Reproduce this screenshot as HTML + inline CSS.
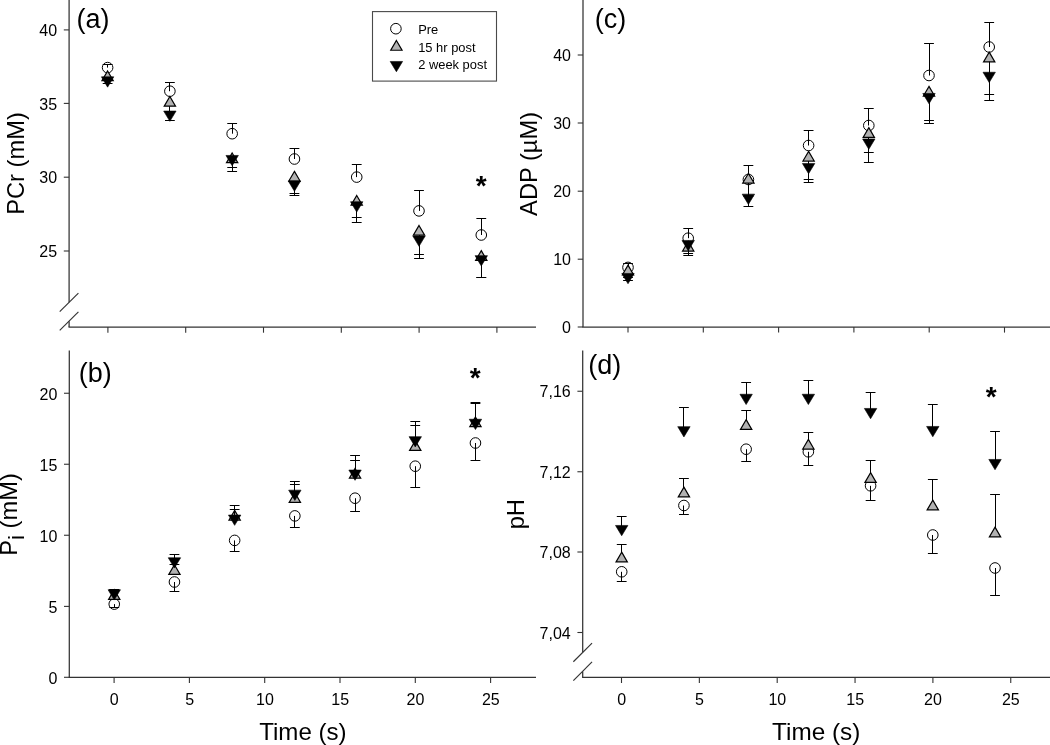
<!DOCTYPE html>
<html><head><meta charset="utf-8"><title>Figure</title>
<style>
html,body{margin:0;padding:0;background:#fff;}
body{width:1050px;height:745px;overflow:hidden;}
svg{display:block;will-change:transform;}
svg text{font-family:"Liberation Sans",sans-serif;fill:#000;}
</style></head><body>
<svg width="1050" height="745" viewBox="0 0 1050 745">
<rect x="0" y="0" width="1050" height="745" fill="#ffffff"/>
<line x1="69.10" y1="0.00" x2="69.10" y2="302.30" stroke="#333333" stroke-width="1.25"/>
<line x1="69.10" y1="321.20" x2="69.10" y2="327.10" stroke="#333333" stroke-width="1.25"/>
<line x1="68.50" y1="327.10" x2="536.00" y2="327.10" stroke="#333333" stroke-width="1.25"/>
<line x1="63.80" y1="29.90" x2="69.10" y2="29.90" stroke="#333333" stroke-width="1.1"/>
<text x="57.10" y="36.00" font-size="16" text-anchor="end">40</text>
<line x1="63.80" y1="103.40" x2="69.10" y2="103.40" stroke="#333333" stroke-width="1.1"/>
<text x="57.10" y="109.50" font-size="16" text-anchor="end">35</text>
<line x1="63.80" y1="177.20" x2="69.10" y2="177.20" stroke="#333333" stroke-width="1.1"/>
<text x="57.10" y="183.30" font-size="16" text-anchor="end">30</text>
<line x1="63.80" y1="251.00" x2="69.10" y2="251.00" stroke="#333333" stroke-width="1.1"/>
<text x="57.10" y="257.10" font-size="16" text-anchor="end">25</text>
<line x1="107.90" y1="327.10" x2="107.90" y2="332.70" stroke="#333333" stroke-width="1.1"/>
<line x1="185.70" y1="327.10" x2="185.70" y2="332.70" stroke="#333333" stroke-width="1.1"/>
<line x1="263.50" y1="327.10" x2="263.50" y2="332.70" stroke="#333333" stroke-width="1.1"/>
<line x1="341.30" y1="327.10" x2="341.30" y2="332.70" stroke="#333333" stroke-width="1.1"/>
<line x1="419.10" y1="327.10" x2="419.10" y2="332.70" stroke="#333333" stroke-width="1.1"/>
<line x1="496.90" y1="327.10" x2="496.90" y2="332.70" stroke="#333333" stroke-width="1.1"/>
<line x1="59.70" y1="330.45" x2="78.40" y2="311.85" stroke="#333333" stroke-width="1.15"/>
<line x1="59.70" y1="311.65" x2="78.40" y2="293.05" stroke="#333333" stroke-width="1.15"/>
<circle cx="107.60" cy="67.60" r="5.3" fill="none" stroke="#000" stroke-width="1"/>
<line x1="107.50" y1="67.60" x2="107.50" y2="64.50" stroke="#000" stroke-width="1.05"/>
<line x1="102.70" y1="64.50" x2="112.50" y2="64.50" stroke="#000" stroke-width="1.05"/>
<circle cx="169.88" cy="91.20" r="5.3" fill="none" stroke="#000" stroke-width="1"/>
<line x1="169.50" y1="91.20" x2="169.50" y2="82.50" stroke="#000" stroke-width="1.05"/>
<line x1="164.98" y1="82.50" x2="174.78" y2="82.50" stroke="#000" stroke-width="1.05"/>
<circle cx="232.16" cy="133.70" r="5.3" fill="none" stroke="#000" stroke-width="1"/>
<line x1="232.50" y1="133.70" x2="232.50" y2="123.50" stroke="#000" stroke-width="1.05"/>
<line x1="227.26" y1="123.50" x2="237.06" y2="123.50" stroke="#000" stroke-width="1.05"/>
<circle cx="294.44" cy="159.00" r="5.3" fill="none" stroke="#000" stroke-width="1"/>
<line x1="294.50" y1="159.00" x2="294.50" y2="148.50" stroke="#000" stroke-width="1.05"/>
<line x1="289.54" y1="148.50" x2="299.34" y2="148.50" stroke="#000" stroke-width="1.05"/>
<circle cx="356.72" cy="177.10" r="5.3" fill="none" stroke="#000" stroke-width="1"/>
<line x1="356.50" y1="177.10" x2="356.50" y2="164.50" stroke="#000" stroke-width="1.05"/>
<line x1="351.82" y1="164.50" x2="361.62" y2="164.50" stroke="#000" stroke-width="1.05"/>
<circle cx="419.00" cy="210.90" r="5.3" fill="none" stroke="#000" stroke-width="1"/>
<line x1="419.50" y1="210.90" x2="419.50" y2="190.50" stroke="#000" stroke-width="1.05"/>
<line x1="414.10" y1="190.50" x2="423.90" y2="190.50" stroke="#000" stroke-width="1.05"/>
<circle cx="481.28" cy="235.00" r="5.3" fill="none" stroke="#000" stroke-width="1"/>
<line x1="481.50" y1="235.00" x2="481.50" y2="218.50" stroke="#000" stroke-width="1.05"/>
<line x1="476.38" y1="218.50" x2="486.18" y2="218.50" stroke="#000" stroke-width="1.05"/>
<line x1="107.50" y1="75.80" x2="107.50" y2="80.50" stroke="#000" stroke-width="1.05"/>
<line x1="102.70" y1="80.50" x2="112.50" y2="80.50" stroke="#000" stroke-width="1.05"/>
<polygon points="107.60,70.95 113.25,80.65 101.95,80.65" fill="#b2b2b2" stroke="#000" stroke-width="1.2" stroke-linejoin="miter"/>
<line x1="169.50" y1="101.30" x2="169.50" y2="111.50" stroke="#000" stroke-width="1.05"/>
<line x1="164.98" y1="111.50" x2="174.78" y2="111.50" stroke="#000" stroke-width="1.05"/>
<polygon points="169.88,96.45 175.53,106.15 164.23,106.15" fill="#b2b2b2" stroke="#000" stroke-width="1.2" stroke-linejoin="miter"/>
<line x1="232.50" y1="157.80" x2="232.50" y2="167.50" stroke="#000" stroke-width="1.05"/>
<line x1="227.26" y1="167.50" x2="237.06" y2="167.50" stroke="#000" stroke-width="1.05"/>
<polygon points="232.16,152.95 237.81,162.65 226.51,162.65" fill="#b2b2b2" stroke="#000" stroke-width="1.2" stroke-linejoin="miter"/>
<line x1="294.50" y1="176.20" x2="294.50" y2="193.50" stroke="#000" stroke-width="1.05"/>
<line x1="289.54" y1="193.50" x2="299.34" y2="193.50" stroke="#000" stroke-width="1.05"/>
<polygon points="294.44,171.35 300.09,181.05 288.79,181.05" fill="#b2b2b2" stroke="#000" stroke-width="1.2" stroke-linejoin="miter"/>
<line x1="356.50" y1="200.40" x2="356.50" y2="217.50" stroke="#000" stroke-width="1.05"/>
<line x1="351.82" y1="217.50" x2="361.62" y2="217.50" stroke="#000" stroke-width="1.05"/>
<polygon points="356.72,195.55 362.37,205.25 351.07,205.25" fill="#b2b2b2" stroke="#000" stroke-width="1.2" stroke-linejoin="miter"/>
<line x1="419.50" y1="230.30" x2="419.50" y2="254.50" stroke="#000" stroke-width="1.05"/>
<line x1="414.10" y1="254.50" x2="423.90" y2="254.50" stroke="#000" stroke-width="1.05"/>
<polygon points="419.00,225.45 424.65,235.15 413.35,235.15" fill="#b2b2b2" stroke="#000" stroke-width="1.2" stroke-linejoin="miter"/>
<line x1="481.50" y1="255.50" x2="481.50" y2="277.50" stroke="#000" stroke-width="1.05"/>
<line x1="476.38" y1="277.50" x2="486.18" y2="277.50" stroke="#000" stroke-width="1.05"/>
<polygon points="481.28,250.65 486.93,260.35 475.63,260.35" fill="#b2b2b2" stroke="#000" stroke-width="1.2" stroke-linejoin="miter"/>
<line x1="107.50" y1="81.40" x2="107.50" y2="83.50" stroke="#000" stroke-width="1.05"/>
<line x1="102.70" y1="83.50" x2="112.50" y2="83.50" stroke="#000" stroke-width="1.05"/>
<polygon points="101.40,76.85 113.80,76.85 107.60,87.15" fill="#000" stroke="#000" stroke-width="0.6" stroke-linejoin="miter"/>
<line x1="169.50" y1="115.60" x2="169.50" y2="120.50" stroke="#000" stroke-width="1.05"/>
<line x1="164.98" y1="120.50" x2="174.78" y2="120.50" stroke="#000" stroke-width="1.05"/>
<polygon points="163.68,111.05 176.08,111.05 169.88,121.35" fill="#000" stroke="#000" stroke-width="0.6" stroke-linejoin="miter"/>
<line x1="232.50" y1="160.00" x2="232.50" y2="171.50" stroke="#000" stroke-width="1.05"/>
<line x1="227.26" y1="171.50" x2="237.06" y2="171.50" stroke="#000" stroke-width="1.05"/>
<polygon points="225.96,155.45 238.36,155.45 232.16,165.75" fill="#000" stroke="#000" stroke-width="0.6" stroke-linejoin="miter"/>
<line x1="294.50" y1="185.50" x2="294.50" y2="195.50" stroke="#000" stroke-width="1.05"/>
<line x1="289.54" y1="195.50" x2="299.34" y2="195.50" stroke="#000" stroke-width="1.05"/>
<polygon points="288.24,180.95 300.64,180.95 294.44,191.25" fill="#000" stroke="#000" stroke-width="0.6" stroke-linejoin="miter"/>
<line x1="356.50" y1="206.30" x2="356.50" y2="222.50" stroke="#000" stroke-width="1.05"/>
<line x1="351.82" y1="222.50" x2="361.62" y2="222.50" stroke="#000" stroke-width="1.05"/>
<polygon points="350.52,201.75 362.92,201.75 356.72,212.05" fill="#000" stroke="#000" stroke-width="0.6" stroke-linejoin="miter"/>
<line x1="419.50" y1="240.60" x2="419.50" y2="258.50" stroke="#000" stroke-width="1.05"/>
<line x1="414.10" y1="258.50" x2="423.90" y2="258.50" stroke="#000" stroke-width="1.05"/>
<polygon points="412.80,236.05 425.20,236.05 419.00,246.35" fill="#000" stroke="#000" stroke-width="0.6" stroke-linejoin="miter"/>
<line x1="481.50" y1="260.20" x2="481.50" y2="277.50" stroke="#000" stroke-width="1.05"/>
<line x1="476.38" y1="277.50" x2="486.18" y2="277.50" stroke="#000" stroke-width="1.05"/>
<polygon points="475.08,255.65 487.48,255.65 481.28,265.95" fill="#000" stroke="#000" stroke-width="0.6" stroke-linejoin="miter"/>
<line x1="69.30" y1="350.50" x2="69.30" y2="677.30" stroke="#333333" stroke-width="1.25"/>
<line x1="68.70" y1="677.30" x2="536.00" y2="677.30" stroke="#333333" stroke-width="1.25"/>
<line x1="64.00" y1="393.25" x2="69.30" y2="393.25" stroke="#333333" stroke-width="1.1"/>
<text x="57.30" y="399.75" font-size="16" text-anchor="end">20</text>
<line x1="64.00" y1="464.25" x2="69.30" y2="464.25" stroke="#333333" stroke-width="1.1"/>
<text x="57.30" y="470.75" font-size="16" text-anchor="end">15</text>
<line x1="64.00" y1="535.25" x2="69.30" y2="535.25" stroke="#333333" stroke-width="1.1"/>
<text x="57.30" y="541.75" font-size="16" text-anchor="end">10</text>
<line x1="64.00" y1="606.40" x2="69.30" y2="606.40" stroke="#333333" stroke-width="1.1"/>
<text x="57.30" y="612.90" font-size="16" text-anchor="end">5</text>
<line x1="64.00" y1="677.30" x2="69.30" y2="677.30" stroke="#333333" stroke-width="1.1"/>
<text x="57.30" y="683.80" font-size="16" text-anchor="end">0</text>
<line x1="114.10" y1="677.30" x2="114.10" y2="682.90" stroke="#333333" stroke-width="1.1"/>
<line x1="189.40" y1="677.30" x2="189.40" y2="682.90" stroke="#333333" stroke-width="1.1"/>
<line x1="264.70" y1="677.30" x2="264.70" y2="682.90" stroke="#333333" stroke-width="1.1"/>
<line x1="340.00" y1="677.30" x2="340.00" y2="682.90" stroke="#333333" stroke-width="1.1"/>
<line x1="415.30" y1="677.30" x2="415.30" y2="682.90" stroke="#333333" stroke-width="1.1"/>
<line x1="490.60" y1="677.30" x2="490.60" y2="682.90" stroke="#333333" stroke-width="1.1"/>
<text x="114.30" y="704.60" font-size="16" text-anchor="middle">0</text>
<text x="189.60" y="704.60" font-size="16" text-anchor="middle">5</text>
<text x="264.90" y="704.60" font-size="16" text-anchor="middle">10</text>
<text x="340.20" y="704.60" font-size="16" text-anchor="middle">15</text>
<text x="415.50" y="704.60" font-size="16" text-anchor="middle">20</text>
<text x="490.80" y="704.60" font-size="16" text-anchor="middle">25</text>
<circle cx="114.25" cy="604.10" r="5.3" fill="none" stroke="#000" stroke-width="1"/>
<line x1="114.50" y1="604.10" x2="114.50" y2="607.50" stroke="#000" stroke-width="1.05"/>
<line x1="109.35" y1="607.50" x2="119.15" y2="607.50" stroke="#000" stroke-width="1.05"/>
<circle cx="174.45" cy="582.00" r="5.3" fill="none" stroke="#000" stroke-width="1"/>
<line x1="174.50" y1="582.00" x2="174.50" y2="591.50" stroke="#000" stroke-width="1.05"/>
<line x1="169.55" y1="591.50" x2="179.35" y2="591.50" stroke="#000" stroke-width="1.05"/>
<circle cx="234.65" cy="540.40" r="5.3" fill="none" stroke="#000" stroke-width="1"/>
<line x1="234.50" y1="540.40" x2="234.50" y2="551.50" stroke="#000" stroke-width="1.05"/>
<line x1="229.75" y1="551.50" x2="239.55" y2="551.50" stroke="#000" stroke-width="1.05"/>
<circle cx="294.85" cy="515.90" r="5.3" fill="none" stroke="#000" stroke-width="1"/>
<line x1="294.50" y1="515.90" x2="294.50" y2="527.50" stroke="#000" stroke-width="1.05"/>
<line x1="289.95" y1="527.50" x2="299.75" y2="527.50" stroke="#000" stroke-width="1.05"/>
<circle cx="355.05" cy="498.20" r="5.3" fill="none" stroke="#000" stroke-width="1"/>
<line x1="355.50" y1="498.20" x2="355.50" y2="511.50" stroke="#000" stroke-width="1.05"/>
<line x1="350.15" y1="511.50" x2="359.95" y2="511.50" stroke="#000" stroke-width="1.05"/>
<circle cx="415.25" cy="466.20" r="5.3" fill="none" stroke="#000" stroke-width="1"/>
<line x1="415.50" y1="466.20" x2="415.50" y2="487.50" stroke="#000" stroke-width="1.05"/>
<line x1="410.35" y1="487.50" x2="420.15" y2="487.50" stroke="#000" stroke-width="1.05"/>
<circle cx="475.45" cy="443.00" r="5.3" fill="none" stroke="#000" stroke-width="1"/>
<line x1="475.50" y1="443.00" x2="475.50" y2="460.50" stroke="#000" stroke-width="1.05"/>
<line x1="470.55" y1="460.50" x2="480.35" y2="460.50" stroke="#000" stroke-width="1.05"/>
<line x1="114.50" y1="594.60" x2="114.50" y2="589.50" stroke="#000" stroke-width="1.05"/>
<line x1="109.35" y1="589.50" x2="119.15" y2="589.50" stroke="#000" stroke-width="1.05"/>
<polygon points="114.25,589.75 119.90,599.45 108.60,599.45" fill="#b2b2b2" stroke="#000" stroke-width="1.2" stroke-linejoin="miter"/>
<line x1="174.50" y1="569.60" x2="174.50" y2="564.50" stroke="#000" stroke-width="1.05"/>
<line x1="169.55" y1="564.50" x2="179.35" y2="564.50" stroke="#000" stroke-width="1.05"/>
<polygon points="174.45,564.75 180.10,574.45 168.80,574.45" fill="#b2b2b2" stroke="#000" stroke-width="1.2" stroke-linejoin="miter"/>
<line x1="234.50" y1="515.20" x2="234.50" y2="509.50" stroke="#000" stroke-width="1.05"/>
<line x1="229.75" y1="509.50" x2="239.55" y2="509.50" stroke="#000" stroke-width="1.05"/>
<polygon points="234.65,510.35 240.30,520.05 229.00,520.05" fill="#b2b2b2" stroke="#000" stroke-width="1.2" stroke-linejoin="miter"/>
<line x1="294.50" y1="497.50" x2="294.50" y2="484.50" stroke="#000" stroke-width="1.05"/>
<line x1="289.95" y1="484.50" x2="299.75" y2="484.50" stroke="#000" stroke-width="1.05"/>
<polygon points="294.85,492.65 300.50,502.35 289.20,502.35" fill="#b2b2b2" stroke="#000" stroke-width="1.2" stroke-linejoin="miter"/>
<line x1="355.50" y1="473.30" x2="355.50" y2="460.50" stroke="#000" stroke-width="1.05"/>
<line x1="350.15" y1="460.50" x2="359.95" y2="460.50" stroke="#000" stroke-width="1.05"/>
<polygon points="355.05,468.45 360.70,478.15 349.40,478.15" fill="#b2b2b2" stroke="#000" stroke-width="1.2" stroke-linejoin="miter"/>
<line x1="415.50" y1="445.50" x2="415.50" y2="425.50" stroke="#000" stroke-width="1.05"/>
<line x1="410.35" y1="425.50" x2="420.15" y2="425.50" stroke="#000" stroke-width="1.05"/>
<polygon points="415.25,440.65 420.90,450.35 409.60,450.35" fill="#b2b2b2" stroke="#000" stroke-width="1.2" stroke-linejoin="miter"/>
<line x1="475.50" y1="421.80" x2="475.50" y2="403.50" stroke="#000" stroke-width="1.05"/>
<line x1="470.55" y1="403.50" x2="480.35" y2="403.50" stroke="#000" stroke-width="1.05"/>
<polygon points="475.45,416.95 481.10,426.65 469.80,426.65" fill="#b2b2b2" stroke="#000" stroke-width="1.2" stroke-linejoin="miter"/>
<line x1="114.50" y1="594.30" x2="114.50" y2="589.50" stroke="#000" stroke-width="1.05"/>
<line x1="109.35" y1="589.50" x2="119.15" y2="589.50" stroke="#000" stroke-width="1.05"/>
<polygon points="108.05,589.75 120.45,589.75 114.25,600.05" fill="#000" stroke="#000" stroke-width="0.6" stroke-linejoin="miter"/>
<line x1="174.50" y1="562.30" x2="174.50" y2="554.50" stroke="#000" stroke-width="1.05"/>
<line x1="169.55" y1="554.50" x2="179.35" y2="554.50" stroke="#000" stroke-width="1.05"/>
<polygon points="168.25,557.75 180.65,557.75 174.45,568.05" fill="#000" stroke="#000" stroke-width="0.6" stroke-linejoin="miter"/>
<line x1="234.50" y1="519.60" x2="234.50" y2="505.50" stroke="#000" stroke-width="1.05"/>
<line x1="229.75" y1="505.50" x2="239.55" y2="505.50" stroke="#000" stroke-width="1.05"/>
<polygon points="228.45,515.05 240.85,515.05 234.65,525.35" fill="#000" stroke="#000" stroke-width="0.6" stroke-linejoin="miter"/>
<line x1="294.50" y1="494.70" x2="294.50" y2="481.50" stroke="#000" stroke-width="1.05"/>
<line x1="289.95" y1="481.50" x2="299.75" y2="481.50" stroke="#000" stroke-width="1.05"/>
<polygon points="288.65,490.15 301.05,490.15 294.85,500.45" fill="#000" stroke="#000" stroke-width="0.6" stroke-linejoin="miter"/>
<line x1="355.50" y1="474.60" x2="355.50" y2="455.50" stroke="#000" stroke-width="1.05"/>
<line x1="350.15" y1="455.50" x2="359.95" y2="455.50" stroke="#000" stroke-width="1.05"/>
<polygon points="348.85,470.05 361.25,470.05 355.05,480.35" fill="#000" stroke="#000" stroke-width="0.6" stroke-linejoin="miter"/>
<line x1="415.50" y1="441.20" x2="415.50" y2="421.50" stroke="#000" stroke-width="1.05"/>
<line x1="410.35" y1="421.50" x2="420.15" y2="421.50" stroke="#000" stroke-width="1.05"/>
<polygon points="409.05,436.65 421.45,436.65 415.25,446.95" fill="#000" stroke="#000" stroke-width="0.6" stroke-linejoin="miter"/>
<line x1="475.50" y1="423.80" x2="475.50" y2="402.50" stroke="#000" stroke-width="1.05"/>
<line x1="470.55" y1="402.50" x2="480.35" y2="402.50" stroke="#000" stroke-width="1.05"/>
<polygon points="469.25,419.25 481.65,419.25 475.45,429.55" fill="#000" stroke="#000" stroke-width="0.6" stroke-linejoin="miter"/>
<line x1="583.00" y1="0.00" x2="583.00" y2="327.00" stroke="#333333" stroke-width="1.25"/>
<line x1="582.40" y1="327.00" x2="1050.00" y2="327.00" stroke="#333333" stroke-width="1.25"/>
<line x1="577.70" y1="55.00" x2="583.00" y2="55.00" stroke="#333333" stroke-width="1.1"/>
<text x="571.00" y="61.10" font-size="16" text-anchor="end">40</text>
<line x1="577.70" y1="123.00" x2="583.00" y2="123.00" stroke="#333333" stroke-width="1.1"/>
<text x="571.00" y="129.10" font-size="16" text-anchor="end">30</text>
<line x1="577.70" y1="191.20" x2="583.00" y2="191.20" stroke="#333333" stroke-width="1.1"/>
<text x="571.00" y="197.30" font-size="16" text-anchor="end">20</text>
<line x1="577.70" y1="259.20" x2="583.00" y2="259.20" stroke="#333333" stroke-width="1.1"/>
<text x="571.00" y="265.30" font-size="16" text-anchor="end">10</text>
<line x1="577.70" y1="327.00" x2="583.00" y2="327.00" stroke="#333333" stroke-width="1.1"/>
<text x="571.00" y="333.10" font-size="16" text-anchor="end">0</text>
<line x1="628.00" y1="327.00" x2="628.00" y2="332.60" stroke="#333333" stroke-width="1.1"/>
<line x1="703.30" y1="327.00" x2="703.30" y2="332.60" stroke="#333333" stroke-width="1.1"/>
<line x1="778.60" y1="327.00" x2="778.60" y2="332.60" stroke="#333333" stroke-width="1.1"/>
<line x1="853.90" y1="327.00" x2="853.90" y2="332.60" stroke="#333333" stroke-width="1.1"/>
<line x1="929.20" y1="327.00" x2="929.20" y2="332.60" stroke="#333333" stroke-width="1.1"/>
<line x1="1004.50" y1="327.00" x2="1004.50" y2="332.60" stroke="#333333" stroke-width="1.1"/>
<circle cx="628.00" cy="267.40" r="5.3" fill="none" stroke="#000" stroke-width="1"/>
<line x1="628.50" y1="267.40" x2="628.50" y2="263.50" stroke="#000" stroke-width="1.05"/>
<line x1="623.10" y1="263.50" x2="632.90" y2="263.50" stroke="#000" stroke-width="1.05"/>
<circle cx="688.20" cy="238.20" r="5.3" fill="none" stroke="#000" stroke-width="1"/>
<line x1="688.50" y1="238.20" x2="688.50" y2="228.50" stroke="#000" stroke-width="1.05"/>
<line x1="683.30" y1="228.50" x2="693.10" y2="228.50" stroke="#000" stroke-width="1.05"/>
<circle cx="748.40" cy="179.50" r="5.3" fill="none" stroke="#000" stroke-width="1"/>
<line x1="748.50" y1="179.50" x2="748.50" y2="165.50" stroke="#000" stroke-width="1.05"/>
<line x1="743.50" y1="165.50" x2="753.30" y2="165.50" stroke="#000" stroke-width="1.05"/>
<circle cx="808.60" cy="145.50" r="5.3" fill="none" stroke="#000" stroke-width="1"/>
<line x1="808.50" y1="145.50" x2="808.50" y2="130.50" stroke="#000" stroke-width="1.05"/>
<line x1="803.70" y1="130.50" x2="813.50" y2="130.50" stroke="#000" stroke-width="1.05"/>
<circle cx="868.80" cy="125.50" r="5.3" fill="none" stroke="#000" stroke-width="1"/>
<line x1="868.50" y1="125.50" x2="868.50" y2="108.50" stroke="#000" stroke-width="1.05"/>
<line x1="863.90" y1="108.50" x2="873.70" y2="108.50" stroke="#000" stroke-width="1.05"/>
<circle cx="929.00" cy="75.50" r="5.3" fill="none" stroke="#000" stroke-width="1"/>
<line x1="929.50" y1="75.50" x2="929.50" y2="43.50" stroke="#000" stroke-width="1.05"/>
<line x1="924.10" y1="43.50" x2="933.90" y2="43.50" stroke="#000" stroke-width="1.05"/>
<circle cx="989.20" cy="47.00" r="5.3" fill="none" stroke="#000" stroke-width="1"/>
<line x1="989.50" y1="47.00" x2="989.50" y2="22.50" stroke="#000" stroke-width="1.05"/>
<line x1="984.30" y1="22.50" x2="994.10" y2="22.50" stroke="#000" stroke-width="1.05"/>
<line x1="628.50" y1="270.00" x2="628.50" y2="277.50" stroke="#000" stroke-width="1.05"/>
<line x1="623.10" y1="277.50" x2="632.90" y2="277.50" stroke="#000" stroke-width="1.05"/>
<polygon points="628.00,265.15 633.65,274.85 622.35,274.85" fill="#b2b2b2" stroke="#000" stroke-width="1.2" stroke-linejoin="miter"/>
<line x1="688.50" y1="246.20" x2="688.50" y2="253.50" stroke="#000" stroke-width="1.05"/>
<line x1="683.30" y1="253.50" x2="693.10" y2="253.50" stroke="#000" stroke-width="1.05"/>
<polygon points="688.20,241.35 693.85,251.05 682.55,251.05" fill="#b2b2b2" stroke="#000" stroke-width="1.2" stroke-linejoin="miter"/>
<line x1="748.50" y1="178.20" x2="748.50" y2="196.50" stroke="#000" stroke-width="1.05"/>
<line x1="743.50" y1="196.50" x2="753.30" y2="196.50" stroke="#000" stroke-width="1.05"/>
<polygon points="748.40,173.35 754.05,183.05 742.75,183.05" fill="#b2b2b2" stroke="#000" stroke-width="1.2" stroke-linejoin="miter"/>
<line x1="808.50" y1="156.20" x2="808.50" y2="179.50" stroke="#000" stroke-width="1.05"/>
<line x1="803.70" y1="179.50" x2="813.50" y2="179.50" stroke="#000" stroke-width="1.05"/>
<polygon points="808.60,151.35 814.25,161.05 802.95,161.05" fill="#b2b2b2" stroke="#000" stroke-width="1.2" stroke-linejoin="miter"/>
<line x1="868.50" y1="132.50" x2="868.50" y2="152.50" stroke="#000" stroke-width="1.05"/>
<line x1="863.90" y1="152.50" x2="873.70" y2="152.50" stroke="#000" stroke-width="1.05"/>
<polygon points="868.80,127.65 874.45,137.35 863.15,137.35" fill="#b2b2b2" stroke="#000" stroke-width="1.2" stroke-linejoin="miter"/>
<line x1="929.50" y1="91.20" x2="929.50" y2="120.50" stroke="#000" stroke-width="1.05"/>
<line x1="924.10" y1="120.50" x2="933.90" y2="120.50" stroke="#000" stroke-width="1.05"/>
<polygon points="929.00,86.35 934.65,96.05 923.35,96.05" fill="#b2b2b2" stroke="#000" stroke-width="1.2" stroke-linejoin="miter"/>
<line x1="989.50" y1="57.00" x2="989.50" y2="94.50" stroke="#000" stroke-width="1.05"/>
<line x1="984.30" y1="94.50" x2="994.10" y2="94.50" stroke="#000" stroke-width="1.05"/>
<polygon points="989.20,52.15 994.85,61.85 983.55,61.85" fill="#b2b2b2" stroke="#000" stroke-width="1.2" stroke-linejoin="miter"/>
<line x1="628.50" y1="278.00" x2="628.50" y2="280.50" stroke="#000" stroke-width="1.05"/>
<line x1="623.10" y1="280.50" x2="632.90" y2="280.50" stroke="#000" stroke-width="1.05"/>
<polygon points="621.80,273.45 634.20,273.45 628.00,283.75" fill="#000" stroke="#000" stroke-width="0.6" stroke-linejoin="miter"/>
<line x1="688.50" y1="245.00" x2="688.50" y2="255.50" stroke="#000" stroke-width="1.05"/>
<line x1="683.30" y1="255.50" x2="693.10" y2="255.50" stroke="#000" stroke-width="1.05"/>
<polygon points="682.00,240.45 694.40,240.45 688.20,250.75" fill="#000" stroke="#000" stroke-width="0.6" stroke-linejoin="miter"/>
<line x1="748.50" y1="198.70" x2="748.50" y2="206.50" stroke="#000" stroke-width="1.05"/>
<line x1="743.50" y1="206.50" x2="753.30" y2="206.50" stroke="#000" stroke-width="1.05"/>
<polygon points="742.20,194.15 754.60,194.15 748.40,204.45" fill="#000" stroke="#000" stroke-width="0.6" stroke-linejoin="miter"/>
<line x1="808.50" y1="168.00" x2="808.50" y2="182.50" stroke="#000" stroke-width="1.05"/>
<line x1="803.70" y1="182.50" x2="813.50" y2="182.50" stroke="#000" stroke-width="1.05"/>
<polygon points="802.40,163.45 814.80,163.45 808.60,173.75" fill="#000" stroke="#000" stroke-width="0.6" stroke-linejoin="miter"/>
<line x1="868.50" y1="143.50" x2="868.50" y2="162.50" stroke="#000" stroke-width="1.05"/>
<line x1="863.90" y1="162.50" x2="873.70" y2="162.50" stroke="#000" stroke-width="1.05"/>
<polygon points="862.60,138.95 875.00,138.95 868.80,149.25" fill="#000" stroke="#000" stroke-width="0.6" stroke-linejoin="miter"/>
<line x1="929.50" y1="98.00" x2="929.50" y2="123.50" stroke="#000" stroke-width="1.05"/>
<line x1="924.10" y1="123.50" x2="933.90" y2="123.50" stroke="#000" stroke-width="1.05"/>
<polygon points="922.80,93.45 935.20,93.45 929.00,103.75" fill="#000" stroke="#000" stroke-width="0.6" stroke-linejoin="miter"/>
<line x1="989.50" y1="76.80" x2="989.50" y2="100.50" stroke="#000" stroke-width="1.05"/>
<line x1="984.30" y1="100.50" x2="994.10" y2="100.50" stroke="#000" stroke-width="1.05"/>
<polygon points="983.00,72.25 995.40,72.25 989.20,82.55" fill="#000" stroke="#000" stroke-width="0.6" stroke-linejoin="miter"/>
<line x1="582.70" y1="350.50" x2="582.70" y2="652.30" stroke="#333333" stroke-width="1.25"/>
<line x1="582.70" y1="671.50" x2="582.70" y2="677.40" stroke="#333333" stroke-width="1.25"/>
<line x1="582.10" y1="677.40" x2="1050.00" y2="677.40" stroke="#333333" stroke-width="1.25"/>
<line x1="577.40" y1="391.25" x2="582.70" y2="391.25" stroke="#333333" stroke-width="1.1"/>
<text x="570.70" y="397.35" font-size="16" text-anchor="end">7,16</text>
<line x1="577.40" y1="471.75" x2="582.70" y2="471.75" stroke="#333333" stroke-width="1.1"/>
<text x="570.70" y="477.85" font-size="16" text-anchor="end">7,12</text>
<line x1="577.40" y1="552.00" x2="582.70" y2="552.00" stroke="#333333" stroke-width="1.1"/>
<text x="570.70" y="558.10" font-size="16" text-anchor="end">7,08</text>
<line x1="577.40" y1="632.50" x2="582.70" y2="632.50" stroke="#333333" stroke-width="1.1"/>
<text x="570.70" y="638.60" font-size="16" text-anchor="end">7,04</text>
<line x1="621.50" y1="677.40" x2="621.50" y2="683.00" stroke="#333333" stroke-width="1.1"/>
<line x1="699.35" y1="677.40" x2="699.35" y2="683.00" stroke="#333333" stroke-width="1.1"/>
<line x1="777.20" y1="677.40" x2="777.20" y2="683.00" stroke="#333333" stroke-width="1.1"/>
<line x1="855.05" y1="677.40" x2="855.05" y2="683.00" stroke="#333333" stroke-width="1.1"/>
<line x1="932.90" y1="677.40" x2="932.90" y2="683.00" stroke="#333333" stroke-width="1.1"/>
<line x1="1010.75" y1="677.40" x2="1010.75" y2="683.00" stroke="#333333" stroke-width="1.1"/>
<text x="621.60" y="704.60" font-size="16" text-anchor="middle">0</text>
<text x="699.45" y="704.60" font-size="16" text-anchor="middle">5</text>
<text x="777.30" y="704.60" font-size="16" text-anchor="middle">10</text>
<text x="855.15" y="704.60" font-size="16" text-anchor="middle">15</text>
<text x="933.00" y="704.60" font-size="16" text-anchor="middle">20</text>
<text x="1010.85" y="704.60" font-size="16" text-anchor="middle">25</text>
<line x1="573.35" y1="680.55" x2="592.05" y2="661.95" stroke="#333333" stroke-width="1.15"/>
<line x1="573.35" y1="661.75" x2="592.05" y2="643.15" stroke="#333333" stroke-width="1.15"/>
<circle cx="621.70" cy="571.80" r="5.3" fill="none" stroke="#000" stroke-width="1"/>
<line x1="621.50" y1="571.80" x2="621.50" y2="581.50" stroke="#000" stroke-width="1.05"/>
<line x1="616.80" y1="581.50" x2="626.60" y2="581.50" stroke="#000" stroke-width="1.05"/>
<circle cx="683.92" cy="505.50" r="5.3" fill="none" stroke="#000" stroke-width="1"/>
<line x1="683.50" y1="505.50" x2="683.50" y2="514.50" stroke="#000" stroke-width="1.05"/>
<line x1="679.02" y1="514.50" x2="688.82" y2="514.50" stroke="#000" stroke-width="1.05"/>
<circle cx="746.14" cy="449.20" r="5.3" fill="none" stroke="#000" stroke-width="1"/>
<line x1="746.50" y1="449.20" x2="746.50" y2="461.50" stroke="#000" stroke-width="1.05"/>
<line x1="741.24" y1="461.50" x2="751.04" y2="461.50" stroke="#000" stroke-width="1.05"/>
<circle cx="808.36" cy="451.80" r="5.3" fill="none" stroke="#000" stroke-width="1"/>
<line x1="808.50" y1="451.80" x2="808.50" y2="465.50" stroke="#000" stroke-width="1.05"/>
<line x1="803.46" y1="465.50" x2="813.26" y2="465.50" stroke="#000" stroke-width="1.05"/>
<circle cx="870.58" cy="485.80" r="5.3" fill="none" stroke="#000" stroke-width="1"/>
<line x1="870.50" y1="485.80" x2="870.50" y2="500.50" stroke="#000" stroke-width="1.05"/>
<line x1="865.68" y1="500.50" x2="875.48" y2="500.50" stroke="#000" stroke-width="1.05"/>
<circle cx="932.80" cy="535.00" r="5.3" fill="none" stroke="#000" stroke-width="1"/>
<line x1="932.50" y1="535.00" x2="932.50" y2="553.50" stroke="#000" stroke-width="1.05"/>
<line x1="927.90" y1="553.50" x2="937.70" y2="553.50" stroke="#000" stroke-width="1.05"/>
<circle cx="995.02" cy="568.00" r="5.3" fill="none" stroke="#000" stroke-width="1"/>
<line x1="995.50" y1="568.00" x2="995.50" y2="595.50" stroke="#000" stroke-width="1.05"/>
<line x1="990.12" y1="595.50" x2="999.92" y2="595.50" stroke="#000" stroke-width="1.05"/>
<line x1="621.50" y1="557.00" x2="621.50" y2="544.50" stroke="#000" stroke-width="1.05"/>
<line x1="616.80" y1="544.50" x2="626.60" y2="544.50" stroke="#000" stroke-width="1.05"/>
<polygon points="621.70,552.15 627.35,561.85 616.05,561.85" fill="#b2b2b2" stroke="#000" stroke-width="1.2" stroke-linejoin="miter"/>
<line x1="683.50" y1="492.00" x2="683.50" y2="478.50" stroke="#000" stroke-width="1.05"/>
<line x1="679.02" y1="478.50" x2="688.82" y2="478.50" stroke="#000" stroke-width="1.05"/>
<polygon points="683.92,487.15 689.57,496.85 678.27,496.85" fill="#b2b2b2" stroke="#000" stroke-width="1.2" stroke-linejoin="miter"/>
<line x1="746.50" y1="424.50" x2="746.50" y2="410.50" stroke="#000" stroke-width="1.05"/>
<line x1="741.24" y1="410.50" x2="751.04" y2="410.50" stroke="#000" stroke-width="1.05"/>
<polygon points="746.14,419.65 751.79,429.35 740.49,429.35" fill="#b2b2b2" stroke="#000" stroke-width="1.2" stroke-linejoin="miter"/>
<line x1="808.50" y1="444.20" x2="808.50" y2="432.50" stroke="#000" stroke-width="1.05"/>
<line x1="803.46" y1="432.50" x2="813.26" y2="432.50" stroke="#000" stroke-width="1.05"/>
<polygon points="808.36,439.35 814.01,449.05 802.71,449.05" fill="#b2b2b2" stroke="#000" stroke-width="1.2" stroke-linejoin="miter"/>
<line x1="870.50" y1="477.50" x2="870.50" y2="460.50" stroke="#000" stroke-width="1.05"/>
<line x1="865.68" y1="460.50" x2="875.48" y2="460.50" stroke="#000" stroke-width="1.05"/>
<polygon points="870.58,472.65 876.23,482.35 864.93,482.35" fill="#b2b2b2" stroke="#000" stroke-width="1.2" stroke-linejoin="miter"/>
<line x1="932.50" y1="505.00" x2="932.50" y2="479.50" stroke="#000" stroke-width="1.05"/>
<line x1="927.90" y1="479.50" x2="937.70" y2="479.50" stroke="#000" stroke-width="1.05"/>
<polygon points="932.80,500.15 938.45,509.85 927.15,509.85" fill="#b2b2b2" stroke="#000" stroke-width="1.2" stroke-linejoin="miter"/>
<line x1="995.50" y1="532.00" x2="995.50" y2="494.50" stroke="#000" stroke-width="1.05"/>
<line x1="990.12" y1="494.50" x2="999.92" y2="494.50" stroke="#000" stroke-width="1.05"/>
<polygon points="995.02,527.15 1000.67,536.85 989.37,536.85" fill="#b2b2b2" stroke="#000" stroke-width="1.2" stroke-linejoin="miter"/>
<line x1="621.50" y1="530.00" x2="621.50" y2="516.50" stroke="#000" stroke-width="1.05"/>
<line x1="616.80" y1="516.50" x2="626.60" y2="516.50" stroke="#000" stroke-width="1.05"/>
<polygon points="615.50,525.45 627.90,525.45 621.70,535.75" fill="#000" stroke="#000" stroke-width="0.6" stroke-linejoin="miter"/>
<line x1="683.50" y1="431.20" x2="683.50" y2="407.50" stroke="#000" stroke-width="1.05"/>
<line x1="679.02" y1="407.50" x2="688.82" y2="407.50" stroke="#000" stroke-width="1.05"/>
<polygon points="677.72,426.65 690.12,426.65 683.92,436.95" fill="#000" stroke="#000" stroke-width="0.6" stroke-linejoin="miter"/>
<line x1="746.50" y1="398.80" x2="746.50" y2="382.50" stroke="#000" stroke-width="1.05"/>
<line x1="741.24" y1="382.50" x2="751.04" y2="382.50" stroke="#000" stroke-width="1.05"/>
<polygon points="739.94,394.25 752.34,394.25 746.14,404.55" fill="#000" stroke="#000" stroke-width="0.6" stroke-linejoin="miter"/>
<line x1="808.50" y1="398.80" x2="808.50" y2="380.50" stroke="#000" stroke-width="1.05"/>
<line x1="803.46" y1="380.50" x2="813.26" y2="380.50" stroke="#000" stroke-width="1.05"/>
<polygon points="802.16,394.25 814.56,394.25 808.36,404.55" fill="#000" stroke="#000" stroke-width="0.6" stroke-linejoin="miter"/>
<line x1="870.50" y1="413.00" x2="870.50" y2="392.50" stroke="#000" stroke-width="1.05"/>
<line x1="865.68" y1="392.50" x2="875.48" y2="392.50" stroke="#000" stroke-width="1.05"/>
<polygon points="864.38,408.45 876.78,408.45 870.58,418.75" fill="#000" stroke="#000" stroke-width="0.6" stroke-linejoin="miter"/>
<line x1="932.50" y1="431.00" x2="932.50" y2="404.50" stroke="#000" stroke-width="1.05"/>
<line x1="927.90" y1="404.50" x2="937.70" y2="404.50" stroke="#000" stroke-width="1.05"/>
<polygon points="926.60,426.45 939.00,426.45 932.80,436.75" fill="#000" stroke="#000" stroke-width="0.6" stroke-linejoin="miter"/>
<line x1="995.50" y1="464.00" x2="995.50" y2="431.50" stroke="#000" stroke-width="1.05"/>
<line x1="990.12" y1="431.50" x2="999.92" y2="431.50" stroke="#000" stroke-width="1.05"/>
<polygon points="988.82,459.45 1001.22,459.45 995.02,469.75" fill="#000" stroke="#000" stroke-width="0.6" stroke-linejoin="miter"/>
<text x="76.60" y="27.60" font-size="27" text-anchor="start">(a)</text>
<text x="78.70" y="381.70" font-size="27" text-anchor="start">(b)</text>
<text x="594.80" y="27.60" font-size="27" text-anchor="start">(c)</text>
<text x="588.30" y="374.20" font-size="27" text-anchor="start">(d)</text>
<text x="23.50" y="163.50" font-size="23.7" text-anchor="middle" transform="rotate(-90 23.50 163.50)">PCr (mM)</text>
<text x="536.80" y="163.90" font-size="23.7" text-anchor="middle" transform="rotate(-90 536.80 163.90)">ADP (µM)</text>
<text x="523.90" y="514.20" font-size="23.7" text-anchor="middle" transform="rotate(-90 523.90 514.20)">pH</text>
<text x="16.9" y="555.8" font-size="23.7" transform="rotate(-90 16.9 555.8)">P<tspan dy="7.1" font-size="22.5">i</tspan><tspan dy="-7.1"> (mM)</tspan></text>
<text x="302.90" y="739.50" font-size="24.1" text-anchor="middle">Time (s)</text>
<text x="816.20" y="739.70" font-size="24.3" text-anchor="middle">Time (s)</text>
<text x="481.20" y="194.60" font-size="28" text-anchor="middle" font-weight="bold">*</text>
<text x="475.20" y="386.60" font-size="28" text-anchor="middle" font-weight="bold">*</text>
<text x="991.20" y="405.50" font-size="28" text-anchor="middle" font-weight="bold">*</text>
<rect x="372.5" y="11.6" width="124" height="69.5" fill="#fff" stroke="#4a4a4a" stroke-width="1.1"/>
<circle cx="395.90" cy="28.70" r="5.3" fill="none" stroke="#000" stroke-width="1"/>
<polygon points="396.40,40.55 402.05,50.25 390.75,50.25" fill="#b2b2b2" stroke="#000" stroke-width="1.2" stroke-linejoin="miter"/>
<polygon points="390.20,61.45 402.60,61.45 396.40,71.75" fill="#000" stroke="#000" stroke-width="0.6" stroke-linejoin="miter"/>
<text x="418.20" y="33.60" font-size="12.9" text-anchor="start">Pre</text>
<text x="418.20" y="51.50" font-size="12.9" text-anchor="start">15 hr post</text>
<text x="418.20" y="69.30" font-size="12.9" text-anchor="start">2 week post</text>
</svg>
</body></html>
